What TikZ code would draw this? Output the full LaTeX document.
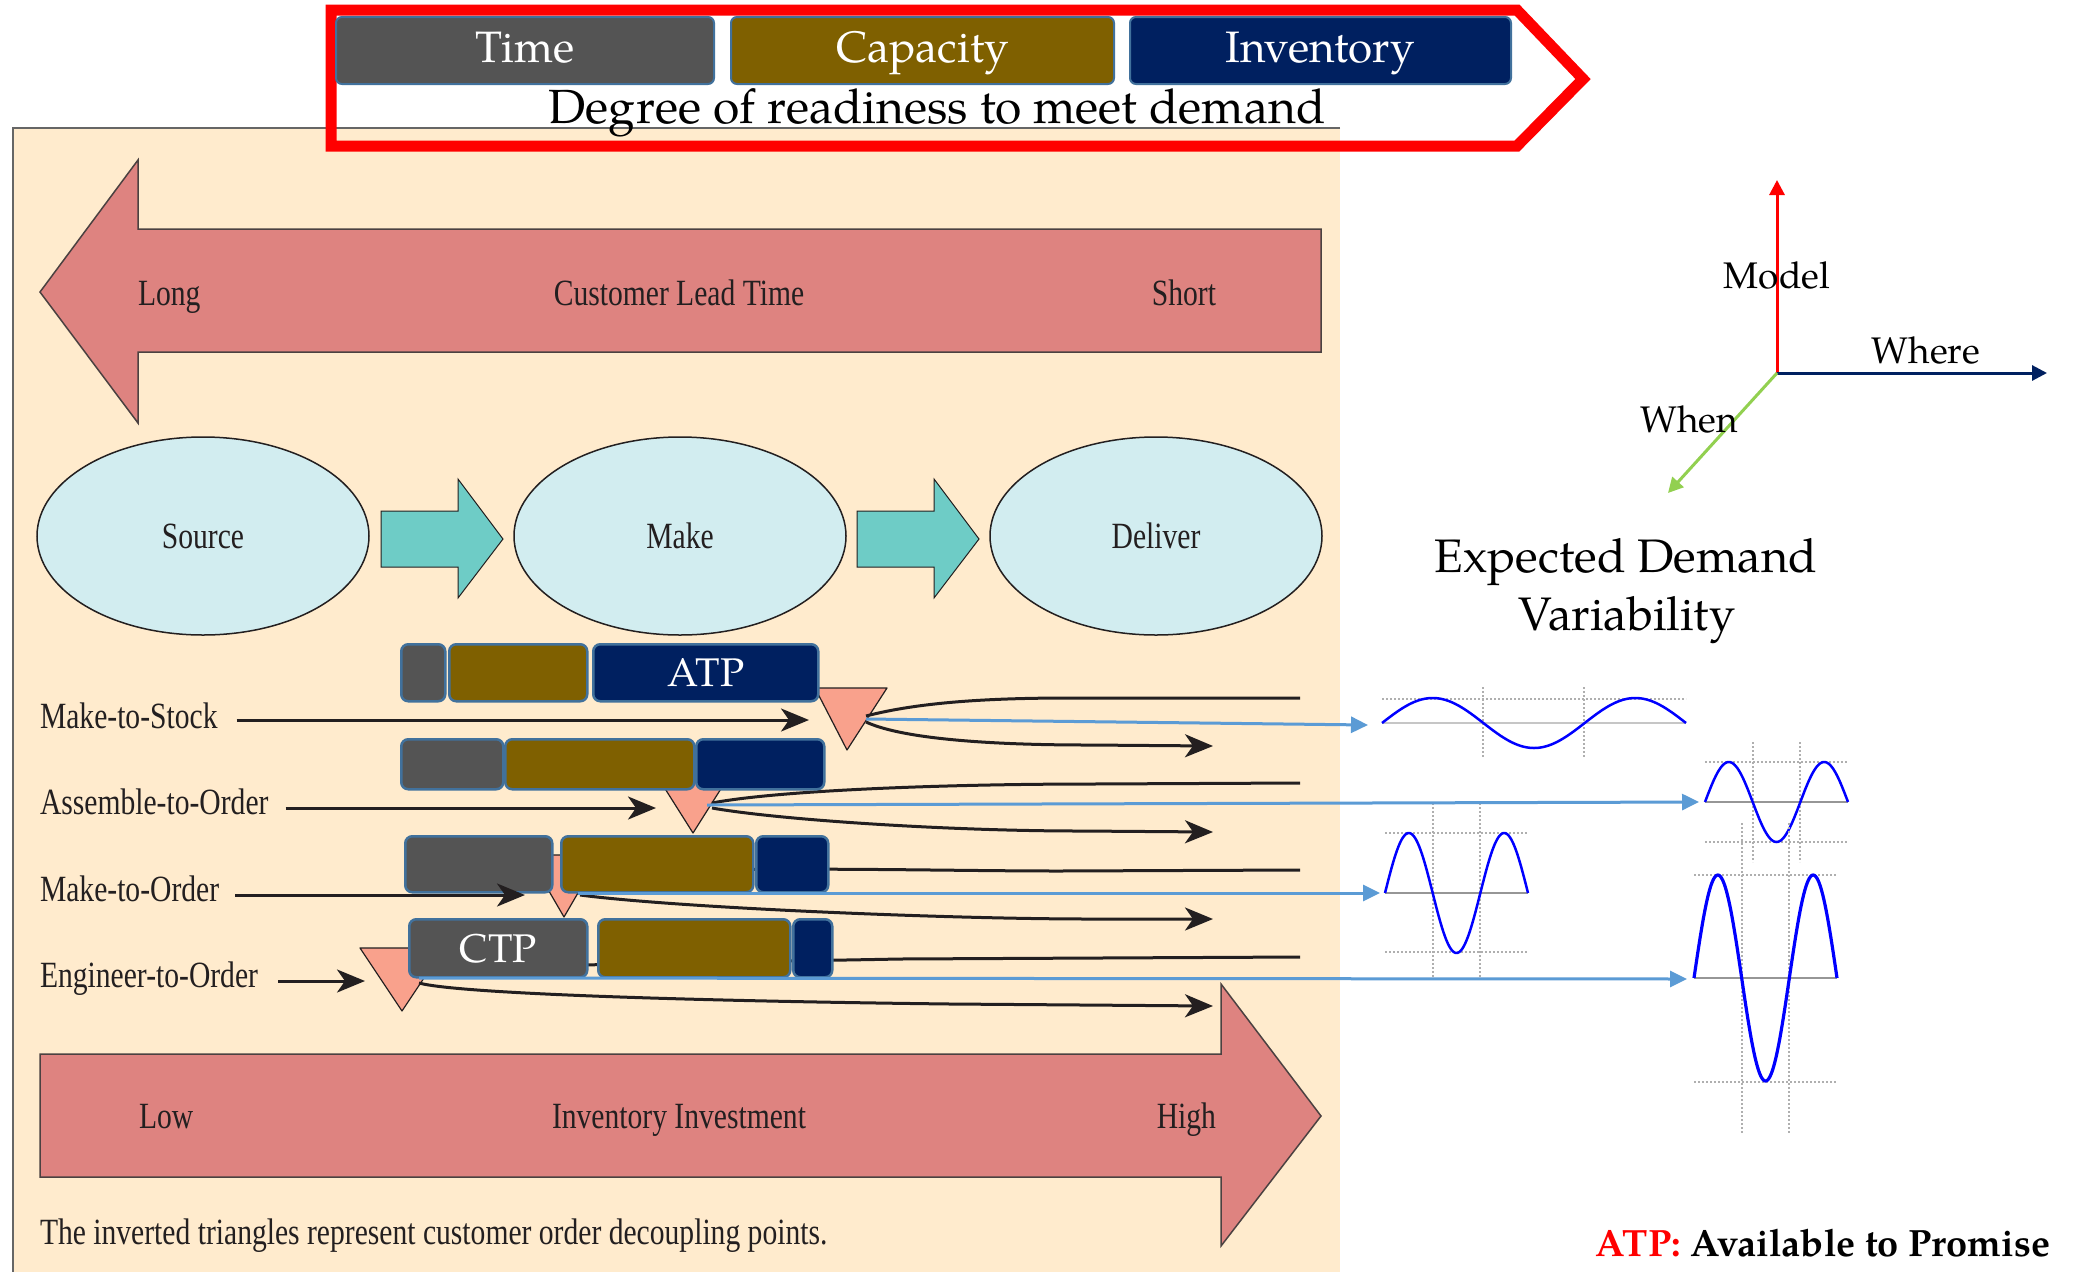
\documentclass[tikz,border=0pt]{standalone}
\usepackage{fontspec}
\usetikzlibrary{arrows.meta,shapes.geometric}
\newfontfamily\pala[Extension=.otf,UprightFont=*-regular,BoldFont=*-bold]{texgyrepagella}
\newfontfamily\cond[FakeStretch=0.8]{Liberation Serif}
\newcommand\setfs[1]{\fontsize{#1}{#1}\selectfont}

\definecolor{peach}{RGB}{255,235,205}
\definecolor{salmon}{RGB}{222,131,128}
\definecolor{arrowedge}{RGB}{75,65,65}
\definecolor{procfill}{RGB}{210,237,240}
\definecolor{flowteal}{RGB}{110,204,198}
\definecolor{cdpfill}{RGB}{249,161,140}
\definecolor{ink}{RGB}{35,31,32}
\definecolor{tgray}{RGB}{84,84,84}
\definecolor{tbrown}{RGB}{127,96,0}
\definecolor{tnavy}{RGB}{0,32,96}
\definecolor{barline}{RGB}{65,113,156}
\definecolor{bluearr}{RGB}{91,155,213}
\definecolor{gridgray}{RGB}{175,175,175}
\definecolor{axisgray}{RGB}{150,150,150}
\definecolor{wavecol}{RGB}{0,0,255}
\definecolor{whengreen}{RGB}{146,208,80}

\begin{document}
\begin{tikzpicture}[x=1pt,y=-1pt,
  txt/.style={inner sep=0pt, outer sep=0pt},
  condtxt/.style={txt, font=\cond\setfs{37}, text=ink},
  palatxt/.style={txt, font=\pala\setfs{#1}},
  topbox/.style={draw=barline, line width=2pt, rounded corners=6pt,
    minimum height=67pt, inner sep=0pt, text=white, font=\pala\setfs{44},
    text height=24pt, text depth=0pt, anchor=north west},
  bar/.style={draw=barline, line width=2.5pt, rounded corners=7pt,
    inner sep=0pt, anchor=north west, text=white, font=\pala\setfs{40},
    text height=27pt, text depth=0pt},
  bigarrow/.style={fill=salmon, draw=arrowedge, line width=1.5pt, line join=miter},
  proc/.style={ellipse, fill=procfill, draw=ink, line width=1.5pt,
    minimum width=332pt, minimum height=198pt, inner sep=0pt,
    font=\cond\setfs{37}, text=ink},
  flow/.style={fill=flowteal, draw=ink, line width=1pt, line join=miter},
  cdp/.style={fill=cdpfill, draw=ink, line width=1.2pt, line join=round},
  fan/.style={draw=ink, line width=3pt},
  fanarrow/.style={fan, -{Stealth[length=28pt,width=23pt,inset=8pt]}},
  blueline/.style={draw=bluearr, line width=3pt, -{Triangle[length=17pt,width=16pt]}},
  gridline/.style={draw=gridgray, line width=1.5pt, dash pattern=on 2pt off 2pt},
  axisline/.style={draw=axisgray, line width=2.5pt},
  wave/.style={draw=wavecol, line width=2.5pt, line join=round},
  dimaxis/.style={line width=3pt, -{Triangle[length=15pt,width=15pt]}},
]
\useasboundingbox (0,0) rectangle (2077,1272);
\fill[white] (0,0) rectangle (2077,1272);

% ---------- framework panel ----------
\fill[peach] (13,128) rectangle (1340,1272);
\draw[draw=gray!80!black, line width=2pt] (1340,128) -- (13,128) -- (13,1272);

% ---------- readiness banner ----------
\draw[red, line width=11pt, line join=miter]
  (331,10) -- (1517,10) -- (1583,79) -- (1517,146) -- (331,146) -- cycle;
\node[topbox, fill=tgray, minimum width=378pt] (time) at (335,16) {Time};
\node[topbox, fill=tbrown, minimum width=383pt] (capacity) at (730,16) {Capacity};
\node[topbox, fill=tnavy, minimum width=381pt] (inventory) at (1129,16) {Inventory};
\node[palatxt=48, anchor=base] (readiness) at (937,123) {Degree of readiness to meet demand};

% ---------- customer lead time arrow ----------
\draw[bigarrow] (40,292) -- (138,160) -- (138,229) -- (1321,229) -- (1321,352)
  -- (138,352) -- (138,423) -- cycle;
\node[condtxt, anchor=base west] (long) at (138,305) {Long};
\node[condtxt, anchor=base] (leadtime) at (679,305) {Customer Lead Time};
\node[condtxt, anchor=base east] (short) at (1216,305) {Short};

% ---------- source / make / deliver ----------
\node[proc] (source) at (203,536) {Source};
\node[proc] (make) at (680,536) {Make};
\node[proc] (deliver) at (1156,536) {Deliver};
\draw[flow] (381,511) -- (458,511) -- (458,479) -- (503,539) -- (458,598) -- (458,567) -- (381,567) -- cycle;
\draw[flow] (857,511) -- (934,511) -- (934,479) -- (979,539) -- (934,598) -- (934,567) -- (857,567) -- cycle;

% ---------- decoupling points ----------
\draw[cdp] (815,688) -- (887,688) -- (847,750) -- cycle;
\draw[cdp] (657,776) -- (729,776) -- (693,833) -- cycle;
\draw[cdp] (528,855) -- (600,855) -- (564,917) -- cycle;
\draw[cdp] (360,948) -- (444,948) -- (402,1011) -- cycle;

\coordinate (mtsout) at (866,719);
\coordinate (atoout) at (707,805);
\coordinate (mtoout) at (578,893);
\coordinate (etoout) at (419,978);

% fan-out of each decoupling point
\draw[fan] (866,716) .. controls (920,702) and (990,698) .. (1070,698) -- (1300,698);
\draw[fanarrow] (866,722) .. controls (905,740) and (1000,745) .. (1088,745) -- (1213,746);
\draw[fan] (712,803) .. controls (780,790) and (950,784) .. (1093,784) -- (1300,783);
\draw[fanarrow] (712,808) .. controls (780,820) and (950,831) .. (1080,831) -- (1213,832);
\draw[fan] (570,884) .. controls (640,862) and (900,871) .. (1060,871) -- (1300,870);
\draw[fanarrow] (580,895) .. controls (680,908) and (950,919) .. (1090,919) -- (1213,919);
\draw[fan] (430,972) .. controls (520,964) and (750,962) .. (900,959) -- (1300,957);
\draw[fanarrow] (419,983) .. controls (460,994) and (700,1001) .. (950,1004) -- (1213,1006);

% ---------- readiness bars ----------
\node[bar, fill=tgray, minimum width=44pt, minimum height=57pt] (mtsT) at (400,643) {};
\node[bar, fill=tbrown, minimum width=138pt, minimum height=57pt] (mtsC) at (448,643) {};
\node[bar, fill=tnavy, minimum width=225pt, minimum height=57pt] (mtsI) at (592,643) {ATP};

\node[bar, fill=tgray, minimum width=102pt, minimum height=50pt] (atoT) at (400,738) {};
\node[bar, fill=tbrown, minimum width=189pt, minimum height=50pt] (atoC) at (504,738) {};
\node[bar, fill=tnavy, minimum width=128pt, minimum height=50pt] (atoI) at (695,738) {};

\node[bar, fill=tgray, minimum width=147pt, minimum height=56pt] (mtoT) at (404,835) {};
\node[bar, fill=tbrown, minimum width=192pt, minimum height=56pt] (mtoC) at (560,835) {};
\node[bar, fill=tnavy, minimum width=72pt, minimum height=56pt] (mtoI) at (755,835) {};

\node[bar, fill=tgray, minimum width=178pt, minimum height=58pt, text height=29pt] (etoT) at (408,918) {CTP};
\node[bar, fill=tbrown, minimum width=192pt, minimum height=58pt] (etoC) at (597,918) {};
\node[bar, fill=tnavy, minimum width=39pt, minimum height=58pt] (etoI) at (792,918) {};

% ---------- production strategies ----------
\node[condtxt, anchor=base west] (mts) at (40,728) {Make-to-Stock};
\node[condtxt, anchor=base west] (ato) at (40,814) {Assemble-to-Order};
\node[condtxt, anchor=base west] (mto) at (40,901) {Make-to-Order};
\node[condtxt, anchor=base west] (eto) at (40,987) {Engineer-to-Order};
\coordinate (mtsin) at (809,720);
\coordinate (atoin) at (656,808);
\coordinate (mtoin) at (525,895);
\coordinate (etoin) at (365,981);
\draw[fanarrow, shorten <=19pt] (mts.east |- mtsin) -- (mtsin);
\draw[fanarrow, shorten <=17pt] (ato.east |- atoin) -- (atoin);
\draw[fanarrow, shorten <=16pt] (mto.east |- mtoin) -- (mtoin);
\draw[fanarrow, shorten <=20pt] (eto.east |- etoin) -- (etoin);

% ---------- inventory investment arrow ----------
\draw[bigarrow] (40,1054) -- (1221,1054) -- (1221,984) -- (1321,1116) -- (1221,1246)
  -- (1221,1177) -- (40,1177) -- cycle;
\node[condtxt, anchor=base west] (low) at (139,1128) {Low};
\node[condtxt, anchor=base] (invest) at (679,1128) {Inventory Investment};
\node[condtxt, anchor=base east] (high) at (1216,1128) {High};
\node[condtxt, anchor=base west] (caption) at (40,1244)
  {The inverted triangles represent customer order decoupling points.};

% ---------- demand variability charts ----------
% chart 1
\draw[gridline] (1382,699) -- (1686,699);
\draw[gridline] (1483,687) -- (1483,758);
\draw[gridline] (1584,687) -- (1584,758);
\draw[draw=gray!45, line width=2.5pt] (1382,723) -- (1686,723);
\draw[wave] plot[domain=0:540, samples=121] ({1382+\x/540*304}, {723-25*sin(\x)});
\coordinate (w1) at (1368,725);
% chart 2
\draw[gridline] (1705,762) -- (1848,762);
\draw[gridline] (1705,842) -- (1848,842);
\draw[gridline] (1753,742) -- (1753,862);
\draw[gridline] (1800,742) -- (1800,862);
\draw[axisline] (1705,802) -- (1848,802);
\draw[wave] plot[domain=0:540, samples=121] ({1705+\x/540*143}, {802-40*sin(\x)});
\coordinate (w2) at (1699,802);
% chart 3
\draw[gridline] (1385,833) -- (1528,833);
\draw[gridline] (1385,952) -- (1528,952);
\draw[gridline] (1433,803) -- (1433,980);
\draw[gridline] (1480,803) -- (1480,980);
\draw[axisline] (1385,893) -- (1528,893);
\draw[wave] plot[domain=0:540, samples=121] ({1385+\x/540*143}, {893-60*sin(\x)});
\coordinate (w3) at (1380,893);
% chart 4
\draw[gridline] (1694,875) -- (1837,875);
\draw[gridline] (1694,1082) -- (1837,1082);
\draw[gridline] (1742,823) -- (1742,1133);
\draw[gridline] (1789,823) -- (1789,1133);
\draw[axisline] (1694,978) -- (1837,978);
\draw[wave, line width=3.2pt] plot[domain=0:540, samples=121] ({1694+\x/540*143}, {978-103*sin(\x)});
\coordinate (w4) at (1687,979);

\draw[blueline] (mtsout) -- (w1);
\draw[blueline] (atoout) -- (w2);
\draw[blueline] (mtoout) -- (w3);
\draw[blueline] (etoout) -- (w4);

\node[palatxt=47, anchor=base] (edv1) at (1626,572) {Expected Demand};
\node[palatxt=47, anchor=base] (edv2) at (1627,630) {Variability};

% ---------- model / where / when axes ----------
\coordinate (origin) at (1777,373);
\coordinate (modeltip) at (1777,180);
\coordinate (wheretip) at (2047,373);
\coordinate (whentip) at (1668,493);
\draw[dimaxis, red] (origin) -- (modeltip);
\draw[dimaxis, tnavy] (origin) -- (wheretip);
\draw[dimaxis, whengreen] (origin) -- (whentip);
\node[palatxt=37] (model) at (1777,275) {Model};
\node[palatxt=37] (where) at (1926,350) {Where};
\node[palatxt=37] (when) at (1689,419) {When};

% ---------- abbreviation note ----------
\node[txt, anchor=base east, font=\pala\bfseries\setfs{38}] (atpnote) at (2050,1256)
  {\textcolor{red}{ATP:} Available to Promise};
\end{tikzpicture}
\end{document}
